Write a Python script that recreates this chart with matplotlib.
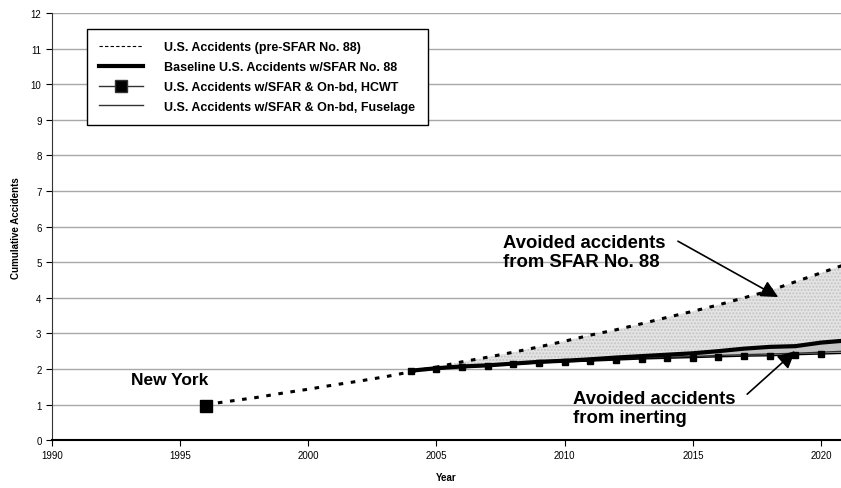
import matplotlib.pyplot as plt
from matplotlib.lines import Line2D

plt.rcParams['font.family'] = ['Liberation Sans', 'DejaVu Sans']

# pre-SFAR cumulative accidents (dashed)
pre_years = [1996, 1997, 1998, 1999, 2000, 2001, 2002, 2003, 2004, 2005, 2006, 2007, 2008,
             2009, 2010, 2011, 2012, 2013, 2014, 2015, 2016, 2017, 2018, 2019, 2020, 2021]
pre_sfar = [1.0, 1.1, 1.2, 1.32, 1.43, 1.55, 1.66, 1.78, 1.92, 2.05, 2.2, 2.33, 2.47,
            2.62, 2.78, 2.95, 3.1, 3.27, 3.45, 3.62, 3.8, 4.0, 4.2, 4.45, 4.7, 4.95]

# projections from 2004 on
years = [2004, 2005, 2006, 2007, 2008, 2009, 2010, 2011, 2012, 2013, 2014, 2015, 2016,
         2017, 2018, 2019, 2020, 2021]
pre_part = pre_sfar[8:]
baseline = [1.95, 2.02, 2.07, 2.1, 2.15, 2.2, 2.23, 2.27, 2.32, 2.36, 2.4, 2.44, 2.5,
            2.57, 2.62, 2.64, 2.74, 2.8]
hcwt = [1.95, 2.0, 2.05, 2.08, 2.13, 2.17, 2.2, 2.22, 2.25, 2.28, 2.3, 2.32, 2.34,
        2.36, 2.37, 2.4, 2.42, 2.44]
fuselage = [1.95, 2.01, 2.06, 2.09, 2.14, 2.18, 2.21, 2.24, 2.27, 2.3, 2.33, 2.35, 2.38,
            2.4, 2.42, 2.44, 2.47, 2.5]

ny_year = [1996]
ny_val = [0.95]

fig = plt.figure(figsize=(8.41, 4.89), dpi=100)
ax = fig.add_axes([0.0618, 0.098, 0.9382, 0.873])

# shaded areas
ax.fill_between(years, baseline, pre_part, facecolor='#e4e4e4', edgecolor='#c4c4c4',
                hatch='.....', linewidth=0, zorder=1)
ax.fill_between(years, hcwt, baseline, facecolor='#c4c4c4', linewidth=0, zorder=1)

ax.plot(pre_years, pre_sfar, color='black', lw=2.2, linestyle=(0, (1.5, 2.5)), zorder=3)
ax.plot(years, fuselage, color='#333333', lw=1.0, zorder=3)
ax.plot(years, hcwt, color='black', lw=1.0, marker='s', markersize=4, zorder=3)
ax.plot(years, baseline, color='black', lw=3, zorder=4)
ax.plot(ny_year, ny_val, color='black', marker='s', markersize=9, linestyle='none', zorder=5)

ax.set_xlim(1990, 2020.78)
ax.set_ylim(0, 12)
ax.set_xticks(range(1990, 2021, 5))
ax.set_yticks(range(0, 13))
ax.yaxis.grid(True, color='#a8a8a8', lw=1)
ax.set_axisbelow(True)
for s in ['top', 'right']:
    ax.spines[s].set_visible(False)
ax.spines['left'].set_color('#333333')
ax.spines['bottom'].set_color('black')
ax.spines['bottom'].set_linewidth(1.5)
ax.tick_params(axis='both', labelsize=7, length=4, direction='out')

ax.set_xlabel('Year', fontsize=7, fontweight='bold', labelpad=8)
ax.set_ylabel('Cumulative Accidents', fontsize=7, fontweight='bold', labelpad=7)

handles = [
    Line2D([], [], color='black', lw=0.8, linestyle=(0, (3, 2))),
    Line2D([], [], color='black', lw=3),
    Line2D([], [], color='#333333', lw=1, marker='s', markersize=8, markerfacecolor='black'),
    Line2D([], [], color='#333333', lw=1),
]
labels = ['U.S. Accidents (pre-SFAR No. 88)',
          'Baseline U.S. Accidents w/SFAR No. 88',
          'U.S. Accidents w/SFAR & On-bd, HCWT',
          'U.S. Accidents w/SFAR & On-bd, Fuselage']
leg = ax.legend(handles, labels, loc='upper left', bbox_to_anchor=(0.044, 0.963),
                borderaxespad=0, prop={'size': 9, 'weight': 'bold'}, handlelength=3.5,
                handletextpad=1.7, labelspacing=0.62, borderpad=1.0, fancybox=False,
                framealpha=1, edgecolor='black')
leg.get_frame().set_linewidth(1)

ax.text(1993.1, 1.69, 'New York', fontsize=12.5, fontweight='bold', va='center')
ax.text(2007.6, 5.28, 'Avoided accidents\nfrom SFAR No. 88', fontsize=13.3,
        fontweight='bold', va='center', linespacing=1.15)
ax.text(2010.33, 0.9, 'Avoided accidents\nfrom inerting', fontsize=13.3,
        fontweight='bold', va='center', linespacing=1.15)
arrow = dict(arrowstyle='-|>', color='black', lw=1.2, mutation_scale=26,
             shrinkA=0, shrinkB=0)
ax.annotate('', xy=(2018.33, 4.02), xytext=(2014.42, 5.59), arrowprops=arrow)
ax.annotate('', xy=(2018.99, 2.5), xytext=(2017.12, 1.29), arrowprops=arrow)

fig.savefig('out.png', dpi=100)
